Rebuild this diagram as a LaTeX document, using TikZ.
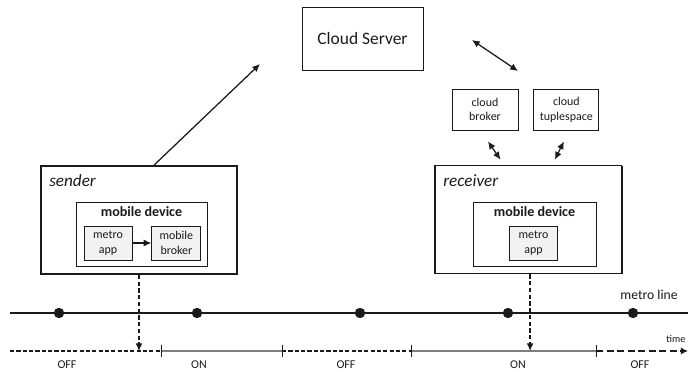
\documentclass[tikz,border=0pt]{standalone}
\usepackage{fontspec}
\setmainfont{Carlito}
\usetikzlibrary{positioning,arrows.meta}
\definecolor{appgray}{HTML}{F2F2F2}
\definecolor{tlgray}{HTML}{7F7F7F}
\definecolor{ink}{HTML}{1A1A1A}
\tikzset{
  box/.style={draw=ink, line width=0.6pt, align=center, inner sep=0pt, text=ink},
  sbox/.style={box, minimum width=1.65cm, minimum height=1.025cm,
    font=\fontsize{8.5pt}{10.5pt}\selectfont},
  appbox/.style={box, fill=appgray, minimum width=1.2cm, minimum height=0.85cm,
    font=\fontsize{8.5pt}{10.5pt}\selectfont},
  devbox/.style={box, minimum height=1.6cm},
  devlab/.style={inner sep=0pt, text=ink, font=\fontsize{10pt}{12pt}\selectfont\bfseries},
  side/.style={draw=ink, line width=1.2pt, dash pattern=on 0.45pt off 0.2pt,
    minimum height=2.7cm, inner sep=0pt},
  who/.style={inner sep=0pt, text=ink, font=\fontsize{12.2pt}{14pt}\selectfont\itshape},
  arr/.style={-{Latex[length=5.5pt,width=5pt]}, line width=0.9pt, draw=ink},
  dbl/.style={{Latex[length=5.5pt,width=5pt]}-{Latex[length=5.5pt,width=5pt]},
    line width=0.9pt, draw=ink},
  drop/.style={arr, dash pattern=on 3pt off 1.8pt},
  stop/.style={circle, fill=ink, inner sep=0pt, minimum size=0.26cm},
  offseg/.style={draw=ink, line width=0.8pt, dash pattern=on 3pt off 1.5pt},
  onseg/.style={draw=tlgray, line width=0.8pt},
  offarr/.style={draw=ink, line width=1.3pt, dash pattern=on 5pt off 2.5pt,
    -{Latex[length=5pt,width=5pt]}},
  tick/.style={draw=ink, line width=0.6pt},
  lab/.style={inner sep=0pt, text=ink, font=\fontsize{9.7pt}{12pt}\selectfont},
  state/.style={inner sep=0pt, text=ink, font=\fontsize{8.5pt}{10pt}\selectfont},
}
\begin{document}
\begin{tikzpicture}[x=0.025cm, y=-0.025cm]
  \useasboundingbox (0,0) rectangle (699,372);
  % cloud side
  \node[box, minimum width=3.025cm, minimum height=1.575cm,
    font=\fontsize{12.4pt}{15pt}\selectfont] (cloud) at (362.5,38.5) {Cloud Server};
  \node[sbox] (cbroker) at (485,109.5) {cloud\\broker};
  \node[sbox, minimum width=1.625cm, right=0.375cm of cbroker] (ctuple) {cloud\\tuplespace};

  % sender
  \node[side, minimum width=4.9cm] (sender) at (139,220) {};
  \node[who, anchor=west] (sendlab) at (49,181) {sender};
  \node[devbox, minimum width=3.275cm] (sdev) at (141.5,234) {};
  \node[devlab, below=0.12cm of sdev.north] (sdevlab) {mobile device};
  \node[appbox] (sapp) at (108,243) {metro\\app};
  \node[appbox, minimum width=1.225cm, right=0.475cm of sapp] (sbroker) {mobile\\broker};
  \draw[arr] (sapp) -- (sbroker);

  % receiver
  \node[side, minimum width=4.675cm] (receiver) at (528.5,219.5) {};
  \node[who, anchor=west] (reclab) at (443,181) {receiver};
  \node[devbox, minimum width=3.075cm] (rdev) at (534.5,234) {};
  \node[devlab, below=0.12cm of rdev.north] (rdevlab) {mobile device};
  \node[appbox] (rapp) at (533.5,243) {metro\\app};

  % links to the cloud
  \coordinate (up) at (260,64);
  \draw[arr] ([xshift=0.375cm]sender.north) -- (up);
  \coordinate (cs1) at (472,40);
  \coordinate (cs2) at (518,71);
  \draw[dbl] (cs1) -- (cs2);
  \draw[dbl] ([xshift=0.075cm,yshift=-0.275cm]cbroker.south)
    -- ([xshift=-0.7cm,yshift=0.125cm]receiver.north);
  \draw[dbl] ([xshift=-0.0625cm,yshift=-0.275cm]ctuple.south)
    -- ([xshift=0.66cm,yshift=0.125cm]receiver.north);

  % metro line
  \coordinate (mlw) at (10,313);
  \coordinate (mle) at (688,313);
  \draw[line width=1pt, draw=ink] (mlw) -- (mle);
  \foreach \x [count=\i] in {59,197,360,508,633}
    \node[stop] (st\i) at (\x,313) {};
  \node[lab] (mllab) at (649,295) {metro line};

  % time line
  \foreach \x [count=\i] in {10,161,282,411,596,688}
    \coordinate (t\i) at (\x,351);
  \draw[offseg] (t1) -- (t2);
  \draw[onseg] (t2) -- (t3);
  \draw[offseg] (t3) -- (t4);
  \draw[onseg] (t4) -- (t5);
  \draw[offarr] (t5) -- (t6);
  \foreach \i in {2,...,5}
    \draw[tick] ([yshift=0.15cm]t\i) -- ([yshift=-0.15cm]t\i);
  \node[state, font=\fontsize{7.3pt}{9pt}\selectfont] (time) at (676,339) {time};
  \foreach \x/\s [count=\i] in {67/OFF,199/ON,346/OFF,518/ON,640/OFF}
    \node[state] (ph\i) at (\x,365) {\s};

  % drops onto the time line
  \draw[drop] (sender.south) -- (sender.south |- t1);
  \draw[drop] ([xshift=0.04cm]receiver.south) -- ([xshift=0.04cm]receiver.south |- t1);
\end{tikzpicture}
\end{document}
